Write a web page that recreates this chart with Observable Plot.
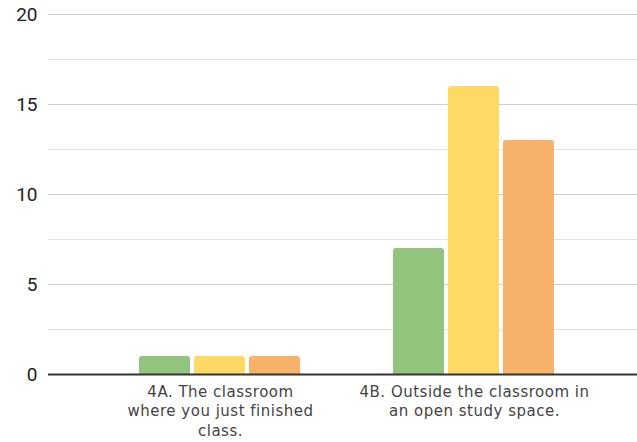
<!DOCTYPE html>
<html>
<head>
<meta charset="utf-8">
<script src="https://cdn.jsdelivr.net/npm/d3@7"></script>
<script src="https://cdn.jsdelivr.net/npm/@observablehq/plot@0.6"></script>
<style>
  html, body { margin: 0; padding: 0; background: #fff; }
  .fxlabels text { letter-spacing: 0.5px; }
</style>
</head>
<body>
<div id="chart"></div>
<script>
const categories = ["4A", "4B"];
const categoryLabels = [
  "4A. The classroom\nwhere you just finished\nclass.",
  "4B. Outside the classroom in\nan open study space."
];
const seriesNames = ["Series 1", "Series 2", "Series 3"];
const series1 = [1, 7];
const series2 = [1, 16];
const series3 = [1, 13];
const seriesColors = ["#93c47d", "#ffd966", "#f6b26b"];
const yTicks = [0, 5, 10, 15, 20];
const yMinorTicks = [2.5, 7.5, 12.5, 17.5];

const seriesValues = [series1, series2, series3];
const rows = [];
categories.forEach((c, i) => {
  seriesValues.forEach((s, j) => rows.push({category: c, series: seriesNames[j], value: s[i]}));
});

// grid lines extend beyond each facet's band so they run across the full frame
const gridExtend = {insetLeft: -45, insetRight: -36};

const chart = Plot.plot({
  width: 637,
  height: 442,
  marginLeft: 48,
  marginRight: 0,
  marginTop: 14,
  marginBottom: 68,
  style: {background: "#fff", color: "#444", overflow: "visible"},
  fx: {domain: categories, paddingInner: 0, paddingOuter: 0.1594, align: 0.556, label: null},
  x: {domain: seriesNames, paddingInner: 0.0714, paddingOuter: 0.804, axis: null},
  y: {domain: [0, 20], axis: null},
  color: {domain: seriesNames, range: seriesColors},
  marks: [
    Plot.ruleY(yMinorTicks, {stroke: "#e3e3e3", strokeWidth: 1, ...gridExtend}),
    Plot.ruleY(yTicks.slice(1), {stroke: "#cccccc", strokeWidth: 1, ...gridExtend}),
    Plot.barY(rows, {fx: "category", x: "series", y: "value", fill: "series", ry1: 3}),
    Plot.ruleY([categories[0]], {fx: d => d, y: () => 0, stroke: "#333", strokeWidth: 2, insetLeft: -45}),
    Plot.ruleY([categories[1]], {fx: d => d, y: () => 0, stroke: "#333", strokeWidth: 2, insetRight: -36}),
    Plot.axisY(yTicks, {
      tickSize: 0, tickPadding: 56, label: null, fontSize: 19,
      fontFamily: "'Liberation Sans Narrow', Roboto, sans-serif", fill: "#222"
    }),
    Plot.axisFx({
      anchor: "bottom", tickSize: 0, tickPadding: 8, fontSize: 15, lineHeight: 1.32,
      fontFamily: "'DejaVu Sans', sans-serif", fill: "#444", label: null, className: "fxlabels",
      tickFormat: d => categoryLabels[categories.indexOf(d)]
    })
  ]
});
document.getElementById("chart").appendChild(chart);
</script>
</body>
</html>
